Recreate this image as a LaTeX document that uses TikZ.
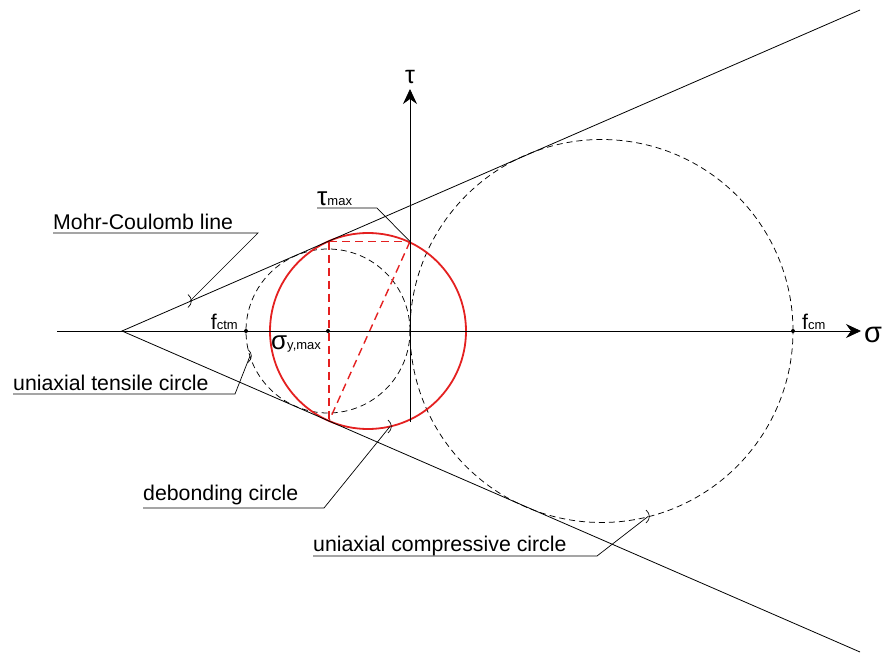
\documentclass[tikz,border=0pt]{standalone}
\usepackage{fontspec}
\setmainfont{Liberation Sans}
\usetikzlibrary{arrows.meta}
\definecolor{mred}{RGB}{228,32,32}
\begin{document}
\begin{tikzpicture}[x=1pt,y=-1pt,
  thinline/.style={line width=0.8pt,black},
  dashcircle/.style={line width=0.75pt,black,dash pattern=on 6pt off 4pt},
  redcircle/.style={line width=1.8pt,mred},
  reddash/.style={line width=1.4pt,mred,dash pattern=on 8pt off 5pt},
  leader/.style={line width=0.7pt,black},
  lbl/.style={inner sep=0pt,anchor=base west,font=\fontsize{21.3}{25}\selectfont},
  dotnode/.style={circle,fill=black,inner sep=0pt,minimum size=4pt},
  tk/.pic={\draw[line width=0.7pt] (-2,-6.5) .. controls (2.5,-2.5) and (2.5,2.5) .. (-2,6.5);},
  axarrow/.style={thinline,-{Stealth[length=15pt,width=14pt,inset=5pt]}}
]
\useasboundingbox (0,0) rectangle (884,653);

% key points
\coordinate (O) at (410,331);
\coordinate (A) at (122,331);
\coordinate (U) at (860,10);
\coordinate (L) at (860,652);
\coordinate (sx0) at (57,331);
\coordinate (sx1) at (861,331);
\coordinate (ty0) at (410,422);
\coordinate (ty1) at (410,89);
\coordinate (tc) at (328,331);
\coordinate (cc) at (601.5,331);
\coordinate (rc) at (368,331);
\coordinate (T1) at (329,241.5);
\coordinate (T2) at (329,421);
\coordinate (tm) at (410,241.5);

% circles
\draw[dashcircle] (tc) circle[radius=82pt];
\draw[dashcircle] (cc) circle[radius=191.5pt];
\draw[redcircle] (rc) circle[radius=98pt];

% red construction
\draw[reddash] (T1) -- (T2);
\draw[reddash] (T1) -- (tm);
\draw[reddash] (tm) -- (T2);

% axes
\draw[axarrow] (sx0) -- (sx1);
\draw[axarrow] (ty0) -- (ty1);

% Mohr-Coulomb lines
\draw[thinline] (U) -- (A) -- (L);

% dots
\node[dotnode] (fctm) at (246,331) {};
\node[dotnode] (sy) at (328,331) {};
\node[dotnode] (fcm) at (793,331) {};

% axis labels
\node[inner sep=0pt,anchor=base west,font=\fontsize{29}{33}\selectfont] (sigl) at (864,342) {σ};
\node[inner sep=0pt,anchor=base,font=\fontsize{25}{29}\selectfont] (taul) at (410,83) {τ};

% point labels
\node[inner sep=0pt,anchor=base east,font=\fontsize{21.3}{25}\selectfont] (fctml) at (238,329) {f{\fontsize{13}{15}\selectfont ctm}};
\node[inner sep=0pt,anchor=base west,font=\fontsize{21.3}{25}\selectfont] (fcml) at (802,329) {f{\fontsize{13}{15}\selectfont cm}};
\node[inner sep=0pt,anchor=base west,font=\fontsize{26}{30}\selectfont] (syl) at (271,349) {σ{\fontsize{13}{15}\selectfont y,max}};
\node[inner sep=0pt,anchor=base west,font=\fontsize{26}{30}\selectfont] (tml) at (317,205) {τ{\fontsize{13}{15}\selectfont max}};

% labelled leaders
\node[lbl] (mcl) at (53,229.5) {Mohr-Coulomb line};
\coordinate (mcu0) at (53,233);
\coordinate (mcu1) at (258,233);
\coordinate (mct) at (190,301);
\draw[leader] (mcu0) -- (mcu1) -- (mct);
\pic at (mct) {tk};

\node[lbl] (utl) at (13,390) {uniaxial tensile circle};
\coordinate (utu0) at (13,394);
\coordinate (utu1) at (235,394);
\coordinate (utt) at (250,356);
\draw[leader] (utu0) -- (utu1) -- (utt);
\pic at (utt) {tk};

\coordinate (tmu0) at (317,208);
\coordinate (tmu1) at (377,208);
\draw[leader] (tmu0) -- (tmu1) -- (tm);

\node[lbl] (dbl) at (143,500) {debonding circle};
\coordinate (dbu0) at (143,508);
\coordinate (dbu1) at (324,508);
\coordinate (dbt) at (390,426.5);
\draw[leader] (dbu0) -- (dbu1) -- (dbt);
\pic at (dbt) {tk};

\node[lbl] (ucl) at (313,551) {uniaxial compressive circle};
\coordinate (ucu0) at (313,556);
\coordinate (ucu1) at (597,556);
\coordinate (uct) at (648,516.5);
\draw[leader] (ucu0) -- (ucu1) -- (uct);
\pic at (uct) {tk};
\end{tikzpicture}
\end{document}
